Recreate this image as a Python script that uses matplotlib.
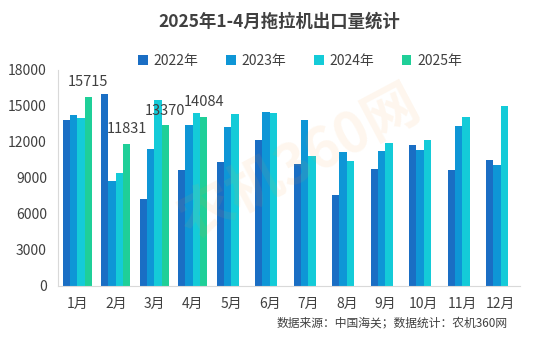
import matplotlib
matplotlib.use("Agg")
import matplotlib.pyplot as plt
import numpy as np

plt.rcParams['font.family'] = ['Noto Sans CJK SC', 'DejaVu Sans']

months = ['1月', '2月', '3月', '4月', '5月', '6月', '7月', '8月', '9月', '10月', '11月', '12月']
series_names = ['2022年', '2023年', '2024年', '2025年']
v2022 = [13800, 16000, 7230, 9650, 10290, 12130, 10180, 7570, 9710, 11740, 9630, 10490]
v2023 = [14220, 8760, 11410, 13440, 13240, 14470, 13800, 11130, 11270, 11320, 13350, 10040]
v2024 = [13990, 9400, 15500, 14380, 14330, 14380, 10820, 10400, 11910, 12160, 14080, 15000]
v2025 = [15715, 11831, 13370, 14084]
colors = ['#1a6ec4', '#0e96d6', '#14cbd8', '#1fcf98']
yticks = [0, 3000, 6000, 9000, 12000, 15000, 18000]

fig = plt.figure(figsize=(5.54, 3.39), dpi=100)
ax = fig.add_axes([58/554, 1-285.7/339, (520-58)/554, 215.7/339])

x = np.arange(len(months))
w = 0.19
data = [v2022, v2023, v2024, v2025]
for i, (vals, c, name) in enumerate(zip(data, colors, series_names)):
    xi = x[:len(vals)] + (i - 1.5) * w
    ax.bar(xi, vals, width=w, color=c, label=name, edgecolor='none')

for j, v in enumerate(v2025):
    ax.text(x[j] + 1.5 * w, v + 1250, str(v), ha='center', va='center',
            fontsize=10.5, color='#404040')

ax.set_xlim(-0.5, 11.5)
ax.set_ylim(0, 18000)
ax.set_yticks(yticks)
ax.set_yticklabels([str(t) for t in yticks], fontsize=10, color='#404040')
ax.set_xticks(x)
ax.set_xticklabels(months, fontsize=10, color='#404040')
ax.tick_params(axis='both', length=0)
ax.tick_params(axis='y', pad=8)
ax.tick_params(axis='x', pad=8)
for s in ['top', 'right']:
    ax.spines[s].set_visible(False)
ax.spines['left'].set_color('#d9d9d9')
ax.spines['bottom'].set_color('#d9d9d9')

# watermark
fig.text(0.54, 0.52, '农机360网', fontsize=40, fontweight='bold', color='#f5a040',
         alpha=0.09, rotation=28, ha='center', va='center')

fig.text(279/554, 1-22/339, '2025年1-4月拖拉机出口量统计', ha='center', va='center',
         fontsize=12.5, fontweight='bold', color='#404040')

leg = fig.legend(loc='center', bbox_to_anchor=(300/554, 1-61/339), ncol=4, frameon=False,
                 fontsize=10, handlelength=0.7, handleheight=0.7, columnspacing=2.0,
                 handletextpad=0.4, labelcolor='#404040')

fig.text(508/554, 1-323/339, '数据来源：中国海关；数据统计：农机360网', ha='right', va='center',
         fontsize=8.5, color='#404040')

fig.savefig('out.png', dpi=100, facecolor='white')
